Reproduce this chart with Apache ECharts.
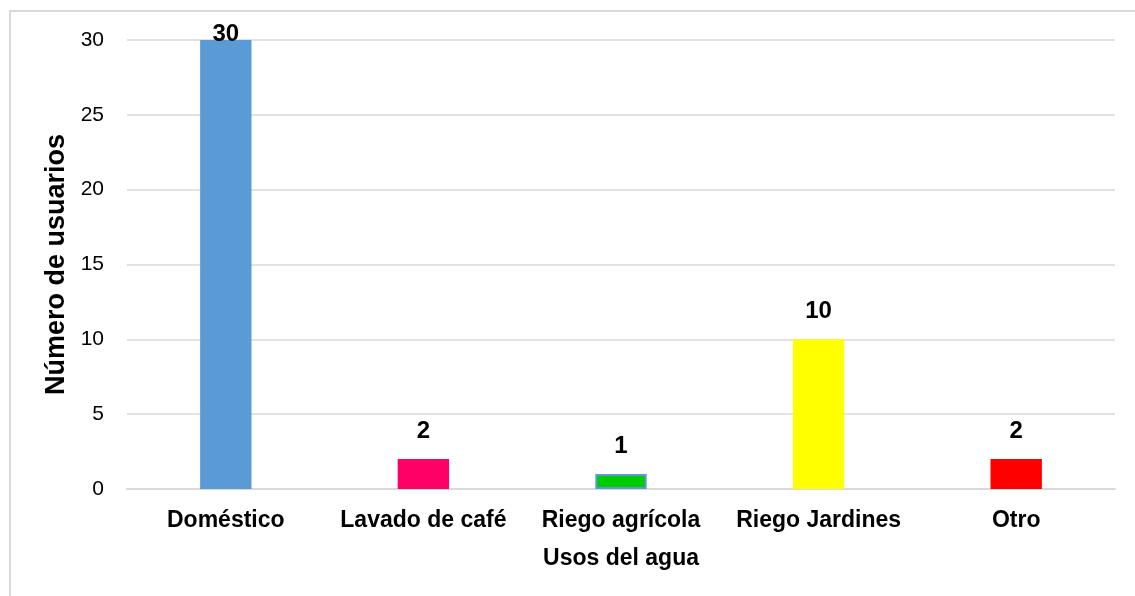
<!DOCTYPE html>
<html>
<head>
<meta charset="utf-8">
<script src="https://cdn.jsdelivr.net/npm/echarts@6/dist/echarts.min.js"></script>
<style>
  html, body { margin: 0; padding: 0; background: #fff; }
  #chart { width: 1135px; height: 596px; }
  .frame { position: absolute; left: 9px; top: 10px; width: 1140px; height: 600px; border: 2px solid #d9d9d9; box-sizing: border-box; pointer-events: none; }
</style>
</head>
<body>
<div id="chart"></div>
<div class="frame"></div>
<script>
const categories = ["Doméstico", "Lavado de café", "Riego agrícola", "Riego Jardines", "Otro"];
const values = [30, 2, 1, 10, 2];
const colors = ["#5b9bd5", "#ff0066", "#00cc00", "#ffff00", "#ff0000"];
const borders = [null, null, "#5b9bd5", null, null];

const chart = echarts.init(document.getElementById("chart"), null, { renderer: "canvas" });

const font = "Liberation Sans, Arial, sans-serif";

chart.setOption({
  animation: false,
  grid: { left: 127, right: 20, top: 40, bottom: 107, containLabel: false },
  xAxis: {
    type: "category",
    data: categories,
    name: "Usos del agua",
    nameLocation: "middle",
    nameGap: 58,
    nameTextStyle: { fontFamily: font, fontWeight: "bold", fontSize: 23, color: "#000" },
    axisLine: { lineStyle: { color: "#d9d9d9", width: 2 } },
    axisTick: { show: false },
    axisLabel: { interval: 0, fontFamily: font, fontWeight: "bold", fontSize: 23, color: "#000", margin: 20 }
  },
  yAxis: {
    type: "value",
    min: 0,
    max: 30,
    interval: 5,
    name: "Número de usuarios",
    nameLocation: "middle",
    nameGap: 42,
    nameTextStyle: { fontFamily: font, fontWeight: "bold", fontSize: 27, color: "#000" },
    axisLine: { show: false },
    axisTick: { show: false },
    axisLabel: { fontFamily: font, fontSize: 21, color: "#000", margin: 23 },
    splitLine: { lineStyle: { color: "#d9d9d9", width: 1.5 } }
  },
  series: [{
    type: "bar",
    barWidth: "26%",
    data: values.map((v, i) => ({
      value: v,
      itemStyle: {
        color: colors[i],
        borderColor: borders[i] || colors[i],
        borderWidth: borders[i] ? 2 : 0
      },
      label: i === 0 ? { distance: -6 } : {}
    })),
    label: {
      show: true,
      position: "top",
      distance: 16,
      fontFamily: font,
      fontWeight: "bold",
      fontSize: 24,
      color: "#000"
    }
  }]
});
</script>
</body>
</html>
